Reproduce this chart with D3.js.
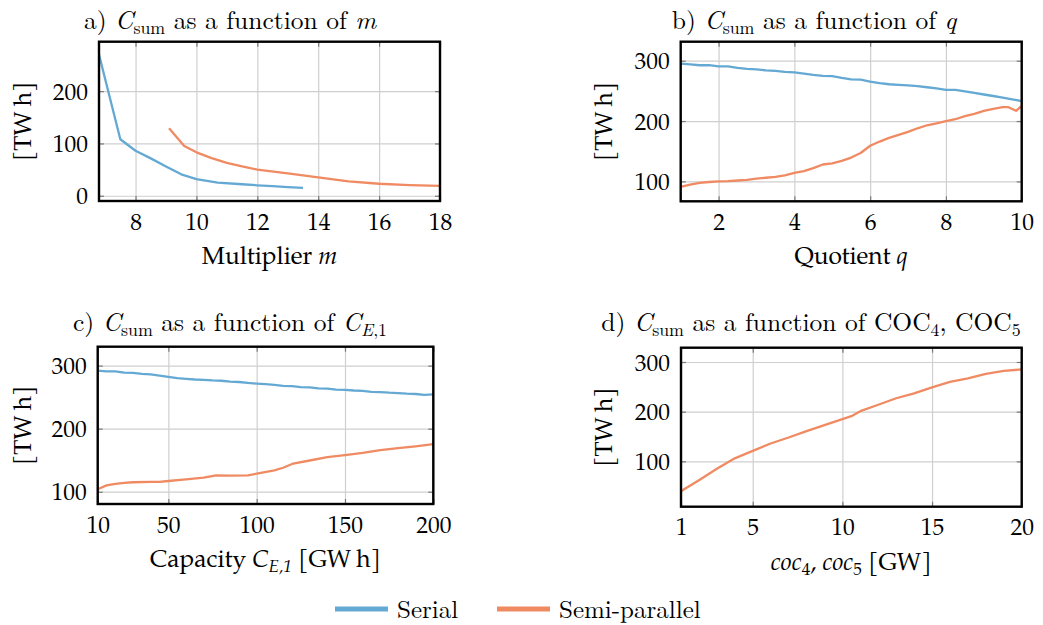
<!DOCTYPE html>
<html>
<head>
<meta charset="utf-8">
<script src="https://cdn.jsdelivr.net/npm/d3@7"></script>
<style>
  html, body { margin: 0; padding: 0; background: #fff; }
  svg { display: block; }
</style>
</head>
<body>
<svg id="chart" width="1043" height="625"></svg>
<script>
// ---------------- data ----------------
const seriesNames = ["Serial", "Semi-parallel"];

// a) C_sum as a function of m
const mSerial      = [6.8, 7.5, 8, 8.5, 9, 9.5, 10, 10.7, 11.5, 12, 12.5, 13, 13.5];
const cSumMSerial  = [270, 108, 86, 71.5, 56, 41, 32, 25, 22, 20, 18.5, 16.5, 15];
const mSemi        = [9.1, 9.6, 10, 10.5, 11, 11.5, 12, 13, 14, 15, 16, 17, 18];
const cSumMSemi    = [129, 95, 83, 72, 63, 56, 50, 43, 35, 27.5, 23, 20.5, 19];

// b) C_sum as a function of q
const qValues      = [1, 1.25, 1.5, 1.75, 2, 2.25, 2.5, 2.75, 3, 3.25, 3.5, 3.75, 4, 4.25, 4.5, 4.75,
                      5, 5.25, 5.5, 5.75, 6, 6.25, 6.5, 6.75, 7, 7.25, 7.5, 7.75, 8, 8.25, 8.5, 8.75,
                      9, 9.25, 9.5, 9.75, 10];
const cSumQSerial  = [295, 294, 292.5, 292.5, 290.5, 290.5, 288, 286.5, 285.5, 284, 283, 281.5, 280.5, 278.5, 276.5, 275,
                      274.5, 271.5, 269, 268.5, 265.5, 263, 261, 260, 259, 258, 256, 254, 251.5, 251.5, 249, 246.5,
                      244, 241.5, 239, 236, 233];
const qSemi        = [1, 1.25, 1.5, 1.75, 2, 2.25, 2.5, 2.75, 3, 3.25, 3.5, 3.75, 4, 4.25, 4.5, 4.75,
                      5, 5.25, 5.5, 5.75, 6, 6.25, 6.5, 6.75, 7, 7.25, 7.5, 7.75, 8, 8.25, 8.5, 8.75,
                      9, 9.25, 9.5, 9.65, 9.85, 10];
const cSumQSemi    = [91, 94.5, 97.5, 99, 100, 100.5, 101.5, 102.5, 104.5, 106, 107.5, 110, 114, 117, 122, 128,
                      130, 134, 139.5, 147, 159, 166, 172, 177, 182, 188, 193, 196, 200, 203, 208, 212,
                      217, 220, 223, 223, 217, 225];

// c) C_sum as a function of C_E,1
const capSerial    = [10, 15, 20, 25, 30, 35, 40, 45, 50, 55, 60, 65, 70, 75, 80, 85, 90, 95, 100, 105,
                      110, 115, 120, 125, 130, 135, 140, 145, 150, 155, 160, 165, 170, 175, 180, 185, 190, 195, 200];
const cSumCSerial  = [292, 291, 291, 289, 288.5, 287, 286, 284, 282, 280, 279, 278, 277.5, 276.5, 276, 274.5, 274, 272.5, 271.5, 270.5,
                      269.5, 268, 267.5, 266, 265.5, 264, 263.5, 262, 261.5, 260.5, 260, 258.5, 258, 257, 256.5, 255.5, 255, 253.5, 254.5];
const capSemi      = [10, 15, 20, 25, 30, 40, 45, 50, 60, 70, 77, 85, 95, 100, 110, 115, 120, 130, 140, 150, 160, 170, 180, 190, 200];
const cSumCSemi    = [104, 110, 112.5, 114, 115, 115.5, 115.5, 117, 119.5, 122.5, 126, 125.5, 126, 128.5, 134, 138, 144,
                      149.5, 155, 158, 161.5, 166, 169, 172, 175.5];

// d) C_sum as a function of COC4, COC5
const cocValues    = [1, 2, 3, 4, 5, 6, 7, 8, 9, 10, 10.5, 11, 12, 13, 14, 15, 16, 17, 18, 19, 20];
const cSumCocSemi  = [40, 62, 85, 106, 121, 136, 148, 161, 173, 185, 191, 201, 214, 227, 237, 249, 260, 267, 276, 282, 285];

// tick values
const ticksAX = [8, 10, 12, 14, 16, 18];   const ticksAY = [0, 100, 200];
const ticksBX = [2, 4, 6, 8, 10];          const ticksBY = [100, 200, 300];
const ticksCX = [10, 50, 100, 150, 200];   const ticksCY = [100, 200, 300];
const ticksDX = [1, 5, 10, 15, 20];        const ticksDY = [100, 200, 300];

// ---------------- style / layout ----------------
const FONT_CM = "'Latin Modern Roman', 'Liberation Serif', serif";
const FONT_PAL = "'TeX Gyre Pagella', 'Liberation Serif', serif";
const colors = { "Serial": "#64a9d3", "Semi-parallel": "#f08a62" };
const zip = (xs, ys) => xs.map((v, i) => [v, ys[i]]);

const panels = [
  { box: [99, 41.7, 440, 201], xDom: [6.8, 18], yDom: [-10, 294.5], xt: ticksAX, yt: ticksAY,
    series: [["Serial", zip(mSerial, cSumMSerial)], ["Semi-parallel", zip(mSemi, cSumMSemi)]],
    title: [{t: "a) "}, {t: "C", i: 1}, {t: "sum", sub: 1}, {t: " as a function of "}, {t: "m", i: 1}],
    xlabel: [{t: "Multiplier "}, {t: "m", i: 1}], titleY: 28.5, titleCx: 230, ylabX: 22 },
  { box: [680.7, 41.7, 1021.7, 201.3], xDom: [1, 10], yDom: [67, 331.5], xt: ticksBX, yt: ticksBY,
    series: [["Serial", zip(qValues, cSumQSerial)], ["Semi-parallel", zip(qSemi, cSumQSemi)]],
    title: [{t: "b) "}, {t: "C", i: 1}, {t: "sum", sub: 1}, {t: " as a function of "}, {t: "q", i: 1}],
    xlabel: [{t: "Quotient "}, {t: "q", i: 1}], titleY: 28.5, titleCx: 814, ylabX: 603 },
  { box: [97.7, 346.7, 433.3, 504], xDom: [10, 200], yDom: [80.5, 330], xt: ticksCX, yt: ticksCY,
    series: [["Serial", zip(capSerial, cSumCSerial)], ["Semi-parallel", zip(capSemi, cSumCSemi)]],
    title: [{t: "c) "}, {t: "C", i: 1}, {t: "sum", sub: 1}, {t: " as a function of "}, {t: "C", i: 1}, {t: "E", i: 1, sub: 1}, {t: ",1", sub: 1}],
    xlabel: [{t: "Capacity "}, {t: "C", i: 1}, {t: "E,1", i: 1, sub: 1}, {t: " [GW\u2009h]"}], titleY: 331, titleCx: 230, ylabX: 22 },
  { box: [681, 347.7, 1021.7, 506.7], xDom: [1, 20], yDom: [8.7, 328.8], xt: ticksDX, yt: ticksDY,
    series: [["Semi-parallel", zip(cocValues, cSumCocSemi)]],
    title: [{t: "d) "}, {t: "C", i: 1}, {t: "sum", sub: 1}, {t: " as a function of COC"}, {t: "4", sub: 1}, {t: ", COC"}, {t: "5", sub: 1}],
    xlabel: [{t: "coc", i: 1}, {t: "4", sub: 1}, {t: ", "}, {t: "coc", i: 1}, {t: "5", sub: 1}, {t: " [GW]"}], titleY: 331, titleCx: 811, ylabX: 603 }
];

const svg = d3.select("#chart");

function rich(textSel, parts) {
  let shift = 0;
  parts.forEach(p => {
    const ts = textSel.append("tspan").text(p.t);
    if (p.i) ts.attr("font-style", "italic");
    const target = p.sub ? 5 : 0;
    if (target !== shift) { ts.attr("dy", target - shift); shift = target; }
    if (p.sub) ts.attr("font-size", "70%");
  });
}

panels.forEach((P, k) => {
  const [x0, y0, x1, y1] = P.box;
  const w = x1 - x0, h = y1 - y0;
  const x = d3.scaleLinear().domain(P.xDom).range([0, w]);
  const y = d3.scaleLinear().domain(P.yDom).range([h, 0]);
  const g = svg.append("g").attr("transform", `translate(${x0},${y0})`);

  // grid
  g.append("g").attr("transform", `translate(0,${h})`)
    .call(d3.axisBottom(x).tickValues(P.xt).tickSize(-h).tickFormat(""))
    .call(s => s.select(".domain").remove())
    .call(s => s.selectAll("line").attr("stroke", "#cfcfcf").attr("stroke-width", 1.2));
  g.append("g")
    .call(d3.axisLeft(y).tickValues(P.yt).tickSize(-w).tickFormat(""))
    .call(s => s.select(".domain").remove())
    .call(s => s.selectAll("line").attr("stroke", "#cfcfcf").attr("stroke-width", 1.2));

  // inner tick marks on all four sides
  const tl = 5;
  const tickStyle = s => s.call(q => q.select(".domain").remove())
    .call(q => q.selectAll("line").attr("stroke", "#7a7a7a").attr("stroke-width", 1.2));
  g.append("g").attr("transform", `translate(0,${h})`).call(d3.axisBottom(x).tickValues(P.xt).tickSize(-tl).tickFormat("")).call(tickStyle);
  g.append("g").call(d3.axisTop(x).tickValues(P.xt).tickSize(-tl).tickFormat("")).call(tickStyle);
  g.append("g").call(d3.axisLeft(y).tickValues(P.yt).tickSize(-tl).tickFormat("")).call(tickStyle);
  g.append("g").attr("transform", `translate(${w},0)`).call(d3.axisRight(y).tickValues(P.yt).tickSize(-tl).tickFormat("")).call(tickStyle);

  // tick labels
  g.append("g").attr("transform", `translate(0,${h})`)
    .call(d3.axisBottom(x).tickValues(P.xt).tickSize(0).tickPadding(0).tickFormat(d3.format("d")))
    .call(s => s.select(".domain").remove())
    .call(s => s.selectAll("text").attr("dy", 0).attr("y", 28.5).style("font-size", "23.5px")
      .style("font-family", FONT_PAL).attr("fill", "#000"));
  g.append("g")
    .call(d3.axisLeft(y).tickValues(P.yt).tickSize(0).tickPadding(11).tickFormat(d3.format("d")))
    .call(s => s.select(".domain").remove())
    .call(s => s.selectAll("text").attr("dy", "0.34em").style("font-size", "23.5px")
      .style("font-family", FONT_PAL).attr("fill", "#000"));

  // clip + lines
  const cid = "clip" + k;
  g.append("clipPath").attr("id", cid).append("rect").attr("width", w).attr("height", h);
  const line = d3.line().x(d => x(d[0])).y(d => y(d[1]));
  P.series.forEach(([name, data]) => {
    g.append("path").datum(data).attr("clip-path", `url(#${cid})`)
      .attr("d", line).attr("fill", "none").attr("stroke", colors[name])
      .attr("stroke-width", 2.3).attr("stroke-linejoin", "round");
  });

  // frame
  g.append("rect").attr("width", w).attr("height", h).attr("fill", "none")
    .attr("stroke", "#000").attr("stroke-width", 2.4);

  // title
  rich(svg.append("text").attr("x", P.titleCx).attr("y", P.titleY).attr("text-anchor", "middle")
    .style("font-family", FONT_CM).style("font-size", "25.5px"), P.title);
  // x label
  rich(svg.append("text").attr("x", x0 + w / 2).attr("y", y1 + 63).attr("text-anchor", "middle")
    .style("font-family", FONT_PAL).style("font-size", "24.5px"), P.xlabel);
  // y label
  svg.append("text").attr("transform", `translate(${P.ylabX},${y0 + h / 2}) rotate(-90)`)
    .attr("text-anchor", "middle").attr("dy", "0.35em")
    .style("font-family", FONT_PAL).style("font-size", "24.5px").text("[TW\u2009h]");
});

// legend
const legend = svg.append("g");
const legX = [335, 497];
seriesNames.forEach((name, i) => {
  legend.append("line").attr("x1", legX[i]).attr("x2", legX[i] + 53).attr("y1", 609).attr("y2", 609)
    .attr("stroke", colors[name]).attr("stroke-width", 5);
  legend.append("text").attr("x", legX[i] + 62).attr("y", 618)
    .style("font-family", FONT_CM).style("font-size", "25px").text(name);
});
</script>
</body>
</html>
